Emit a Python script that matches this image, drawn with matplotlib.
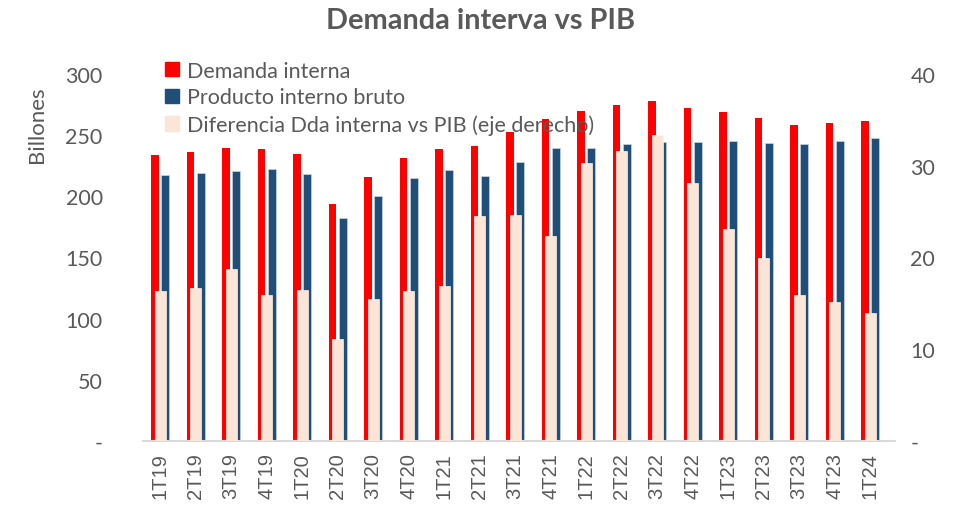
import numpy as np
import matplotlib
matplotlib.use('Agg')
import matplotlib.pyplot as plt
from matplotlib.patches import Patch

plt.rcParams['font.family'] = ['Lato', 'DejaVu Sans']

trimestres = ['1T19', '2T19', '3T19', '4T19', '1T20', '2T20', '3T20', '4T20',
              '1T21', '2T21', '3T21', '4T21', '1T22', '2T22', '3T22', '4T22',
              '1T23', '2T23', '3T23', '4T23', '1T24']
demanda = [233.8, 236.3, 239.3, 238.5, 234.7, 193.5, 216.1, 231.4,
           238.5, 241.2, 252.7, 263.0, 269.8, 274.7, 277.7, 272.3,
           268.8, 263.9, 258.6, 260.3, 261.7]
pib = [217.2, 219.4, 220.8, 222.4, 218.3, 182.3, 200.6, 215.0,
       221.6, 216.4, 227.8, 239.6, 239.3, 242.8, 244.2, 244.2,
       245.3, 243.7, 242.6, 245.0, 247.8]
diferencia = [16.3, 16.7, 18.7, 15.9, 16.5, 11.1, 15.5, 16.3,
              16.9, 24.5, 24.6, 22.3, 30.3, 31.6, 33.4, 28.1,
              23.1, 19.9, 15.9, 15.1, 13.9]

rojo = '#ff0000'
azul = '#1f4e79'
durazno = '#fbe5d6'
gris = '#595959'

x = np.arange(len(trimestres))

fig = plt.figure(figsize=(9.61, 5.06), dpi=100)
ax = fig.add_axes([143 / 961, 1 - 442 / 506, (895 - 143) / 961, (442 - 75) / 506])
ax2 = ax.twinx()

ax.bar(x - 0.144, demanda, width=0.22, color=rojo, zorder=2)
ax.bar(x + 0.144, pib, width=0.22, color=azul, edgecolor='#c9d4e0', linewidth=0.5, zorder=2)
ax2.bar(x, diferencia, width=0.31, color=durazno, edgecolor='#fff2ea', linewidth=0.5, zorder=3)

ax.set_xlim(-0.48, 20.7)
ax.set_ylim(0, 300)
ax2.set_ylim(0, 40)

ax.set_yticks([0, 50, 100, 150, 200, 250, 300])
ax.set_yticklabels(['-', '50', '100', '150', '200', '250', '300'])
ax2.set_yticks([0, 10, 20, 30, 40])
ax2.set_yticklabels(['-', '10', '20', '30', '40'])
ax.set_xticks(x)
ax.set_xticklabels(trimestres, rotation=90, fontsize=14.5, family=['Liberation Sans', 'DejaVu Sans'])

for a in (ax, ax2):
    for s in a.spines.values():
        s.set_visible(False)
    a.tick_params(axis='y', length=0, labelsize=15.5, colors=gris)
ax.tick_params(axis='x', length=0, colors=gris, pad=8)
ax.spines['bottom'].set_visible(True)
ax.spines['bottom'].set_color('#d9d9d9')
ax.spines['bottom'].set_linewidth(1.5)
ax.tick_params(axis='y', pad=29)
ax2.tick_params(axis='y', pad=11)

ax.set_ylabel('Billones', fontsize=16, color=gris)
ax.yaxis.set_label_coords(-0.128, 0.865)

fig.suptitle('Demanda interva vs PIB', x=0.5, y=0.985, fontsize=20.8,
             fontweight='bold', color=gris)

handles = [Patch(color=rojo), Patch(color=azul), Patch(color=durazno)]
labels = ['Demanda interna', 'Producto interno bruto',
          'Diferencia Dda interna vs PIB (eje derecho)']
leg = fig.legend(handles, labels, loc='upper left', bbox_to_anchor=(156 / 961, 1 - 53 / 506),
                 frameon=False, fontsize=15.5, handlelength=0.65, handleheight=0.65,
                 handletextpad=0.4, labelspacing=0.32, borderaxespad=0)
leg.set_zorder(10)
for t in leg.get_texts():
    t.set_color(gris)

fig.savefig('out.png', dpi=100)
